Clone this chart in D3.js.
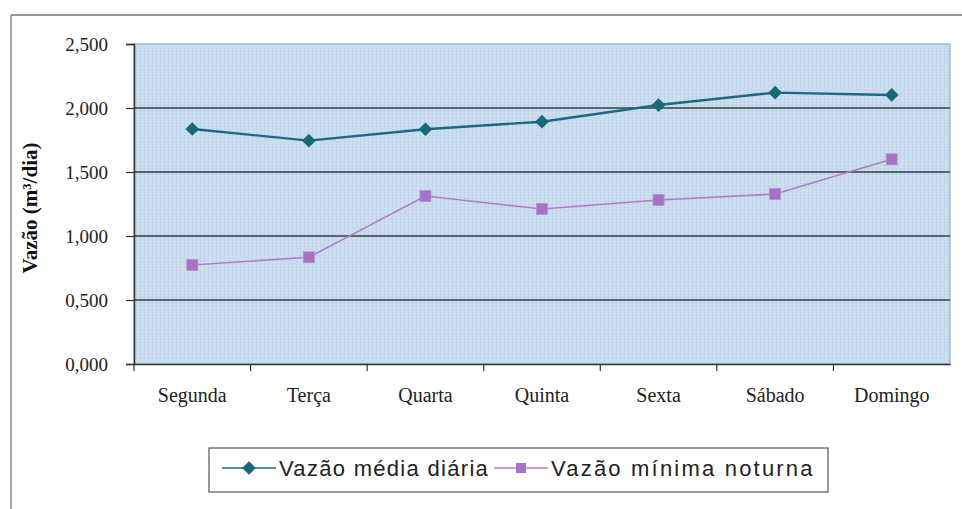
<!DOCTYPE html>
<html>
<head>
<meta charset="utf-8">
<script src="https://cdn.jsdelivr.net/npm/d3@7"></script>
<style>
  body { margin: 0; background: #fff; }
</style>
</head>
<body>
<div id="chart"></div>
<script>
// dias da semana e séries
const dias = ["Segunda", "Terça", "Quarta", "Quinta", "Sexta", "Sábado", "Domingo"];
const vazaoMedia = [1.836, 1.745, 1.834, 1.893, 2.023, 2.120, 2.102];
const vazaoMinima = [0.773, 0.834, 1.312, 1.211, 1.281, 1.328, 1.599];
const yTicks = [0, 0.5, 1.0, 1.5, 2.0, 2.5];
const nomes = ["Vazão média diária", "Vazão mínima noturna"];

var width = 962;
var height = 509;
const plot = { left: 134, right: 950, top: 44, bottom: 364 };

const svg = d3.select("#chart")
    .append("svg")
    .attr("width", width)
    .attr("height", height)
    .style("background-color", "#fff");

// moldura externa (só topo e esquerda aparecem)
svg.append("line").attr("x1", 11).attr("x2", width).attr("y1", 15).attr("y2", 15)
    .attr("stroke", "#777").attr("stroke-width", 1.3);
svg.append("line").attr("x1", 11).attr("x2", 11).attr("y1", 15).attr("y2", height)
    .attr("stroke", "#777").attr("stroke-width", 1.3);

const x = d3.scaleBand()
    .domain(dias)
    .range([plot.left, plot.right]);

const y = d3.scaleLinear()
    .domain([0, 2.5])
    .range([plot.bottom, plot.top]);

// textura do fundo
const defs = svg.append("defs");
const pat = defs.append("pattern")
    .attr("id", "textura")
    .attr("width", 4).attr("height", 3)
    .attr("patternUnits", "userSpaceOnUse");
pat.append("rect").attr("width", 4).attr("height", 3).attr("fill", "#c8dcee");
pat.append("rect").attr("x", 0).attr("y", 0).attr("width", 1).attr("height", 1).attr("fill", "#b9cfe3");
pat.append("rect").attr("x", 2).attr("y", 1).attr("width", 1).attr("height", 1).attr("fill", "#d6e5f3");

svg.append("rect")
    .attr("x", plot.left).attr("y", plot.top)
    .attr("width", plot.right - plot.left)
    .attr("height", plot.bottom - plot.top)
    .attr("fill", "url(#textura)")
    .attr("stroke", "#9dbbd8")
    .attr("stroke-width", 1.5);

// linhas de grade
svg.selectAll(".grade")
    .data(yTicks.filter(d => d > 0 && d < 2.5))
    .enter()
    .append("line")
    .attr("class", "grade")
    .attr("x1", plot.left).attr("x2", plot.right)
    .attr("y1", d => y(d)).attr("y2", d => y(d))
    .attr("stroke", "#3a3f44")
    .attr("stroke-width", 1.3);

// eixo y
const fmt = d => d3.format(".3f")(d).replace(".", ",");
const yAxis = svg.append("g")
    .attr("transform", `translate(${plot.left},0)`)
    .call(d3.axisLeft(y).tickValues(yTicks).tickFormat(fmt).tickSize(8).tickPadding(18));
yAxis.select(".domain").attr("stroke", "#333").attr("stroke-width", 1.5);
yAxis.selectAll(".tick line").attr("stroke", "#333").attr("stroke-width", 1.2);
yAxis.selectAll("text")
    .attr("fill", "#222")
    .style("font-family", "'Liberation Serif', 'Times New Roman', serif")
    .style("font-size", "19px");

// eixo x
const xAxis = svg.append("g")
    .attr("transform", `translate(0,${plot.bottom})`)
    .call(d3.axisBottom(x).tickSize(0).tickPadding(24));
xAxis.select(".domain").attr("stroke", "#333").attr("stroke-width", 1.5);
xAxis.selectAll("text")
    .attr("fill", "#222")
    .style("font-family", "'Liberation Serif', 'Times New Roman', serif")
    .style("font-size", "20px");

// marcas entre categorias
svg.selectAll(".xtick")
    .data(dias)
    .enter()
    .append("line")
    .attr("x1", d => x(d)).attr("x2", d => x(d))
    .attr("y1", plot.bottom).attr("y2", plot.bottom + 7)
    .attr("stroke", "#333").attr("stroke-width", 1.2);

// título do eixo y
svg.append("text")
    .attr("transform", "translate(37,208) rotate(-90)")
    .attr("text-anchor", "middle")
    .attr("fill", "#111")
    .style("font-family", "'Liberation Serif', 'Times New Roman', serif")
    .style("font-weight", "bold")
    .style("font-size", "21px")
    .text("Vazão  (m³/dia)");

const cx = d => x(d) + x.bandwidth() / 2;
const linha = d3.line()
    .x((d, i) => cx(dias[i]))
    .y(d => y(d));

// série 2: mínima noturna
svg.append("path")
    .datum(vazaoMinima)
    .attr("d", linha)
    .attr("fill", "none")
    .attr("stroke", "#b27cc4")
    .attr("stroke-width", 1.6);
svg.selectAll(".quad")
    .data(vazaoMinima)
    .enter()
    .append("rect")
    .attr("x", (d, i) => cx(dias[i]) - 5.5)
    .attr("y", d => y(d) - 5.5)
    .attr("width", 11).attr("height", 11)
    .attr("fill", "#a673c4")
    .attr("stroke", "#b58fd0")
    .attr("stroke-width", 0.8);

// série 1: média diária
svg.append("path")
    .datum(vazaoMedia)
    .attr("d", linha)
    .attr("fill", "none")
    .attr("stroke", "#1d6a80")
    .attr("stroke-width", 2.4);
const losango = d3.symbol().type(d3.symbolDiamond2).size(120);
svg.selectAll(".los")
    .data(vazaoMedia)
    .enter()
    .append("path")
    .attr("d", losango)
    .attr("transform", (d, i) => `translate(${cx(dias[i])},${y(d)})`)
    .attr("fill", "#19677a");

// legenda
const leg = svg.append("g");
leg.append("rect")
    .attr("x", 209).attr("y", 448)
    .attr("width", 619).attr("height", 44)
    .attr("fill", "#fff")
    .attr("stroke", "#555")
    .attr("stroke-width", 1.2);

const legX = [222, 494];
const legCor = ["#1d6a80", "#b27cc4"];
const legEsp = ["1.3px", "2.2px"];
legX.forEach(function (lx, i) {
    leg.append("line")
        .attr("x1", lx).attr("x2", lx + 54)
        .attr("y1", 468).attr("y2", 468)
        .attr("stroke", legCor[i]).attr("stroke-width", 1.6);
    if (i === 0) {
        leg.append("path")
            .attr("d", losango)
            .attr("transform", `translate(${lx + 27},468)`)
            .attr("fill", "#19677a");
    } else {
        leg.append("rect")
            .attr("x", lx + 22).attr("y", 463)
            .attr("width", 10).attr("height", 10)
            .attr("fill", "#a673c4");
    }
    leg.append("text")
        .attr("x", lx + 57).attr("y", 476)
        .attr("fill", "#222")
        .style("font-family", "'Liberation Sans', Arial, sans-serif")
        .style("font-size", "22px")
        .style("letter-spacing", legEsp[i])
        .text(nomes[i]);
});
</script>
</body>
</html>
